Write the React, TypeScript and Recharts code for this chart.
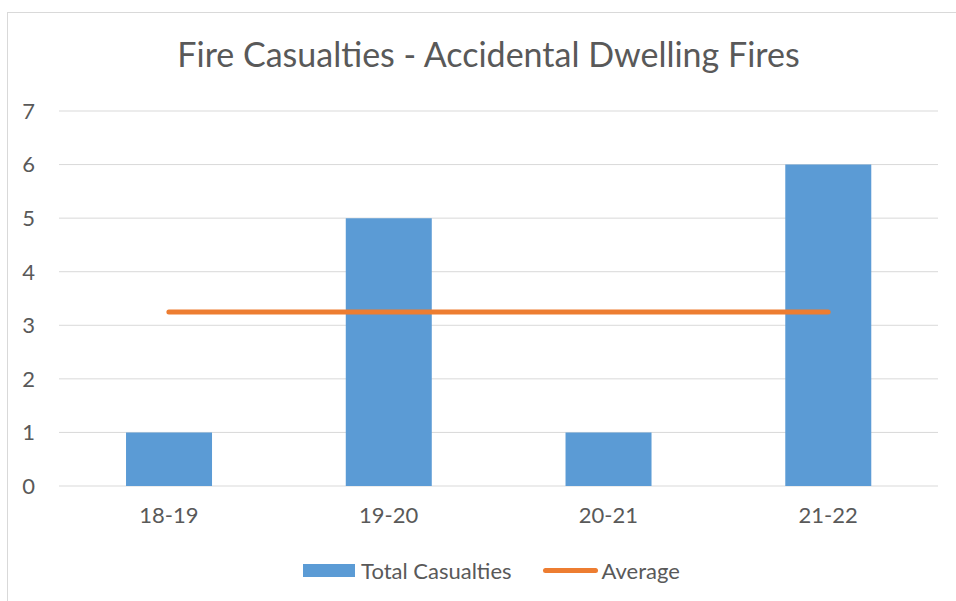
import { Bar, CartesianGrid, ComposedChart, Legend, Line, XAxis, YAxis } from "recharts";

const seasons = ["18-19", "19-20", "20-21", "21-22"];
const totalCasualties = [1, 5, 1, 6];
const averageValues = [3.25, 3.25, 3.25, 3.25];
const yTicks = [0, 1, 2, 3, 4, 5, 6, 7];

const chartData = seasons.map((season, i) => ({
  season,
  total: totalCasualties[i],
  average: averageValues[i]
}));

const FONT = "Lato, 'Open Sans', sans-serif";
const TEXT = "#595959";

function LegendBox() {
  return (
    <div
      style={{
        width: 956,
        height: 20,
        display: "flex",
        justifyContent: "center",
        alignItems: "center",
        paddingLeft: 27,
        boxSizing: "border-box",
        fontFamily: FONT,
        fontSize: 22,
        color: TEXT
      }}
    >
      <span style={{ width: 52, height: 13, background: "#5B9BD5", marginRight: 6 }} />
      <span style={{ marginRight: 31 }}>Total Casualties</span>
      <span style={{ width: 55, height: 5, borderRadius: 3, background: "#ED7D31", marginRight: 4 }} />
      <span>Average</span>
    </div>
  );
}

export default function App() {
  return (
    <div
      style={{
        position: "fixed",
        left: 0,
        top: 0,
        width: 956,
        height: 601,
        background: "#fff",
        overflow: "hidden"
      }}
    >
      <div
        style={{
          position: "absolute",
          left: 7,
          top: 12,
          width: 970,
          height: 620,
          border: "1px solid #d9d9d9",
          boxSizing: "border-box"
        }}
      />
      <div
        style={{
          position: "absolute",
          left: 0,
          top: 33,
          width: 977,
          textAlign: "center",
          fontFamily: FONT,
          fontSize: 34,
          color: TEXT
        }}
      >
        Fire Casualties - Accidental Dwelling Fires
      </div>
      <div style={{ position: "absolute", left: 0, top: 0 }}>
        <ComposedChart
          width={956}
          height={601}
          data={chartData}
          margin={{ top: 111, right: 18, left: 0, bottom: 21 }}
          barCategoryGap="30.5%"
        >
          <CartesianGrid vertical={false} stroke="#d9d9d9" strokeWidth={1} />
          <XAxis
            dataKey="season"
            axisLine={false}
            tickLine={false}
            height={74}
            tickSize={0}
            tickMargin={21}
            tick={{ fill: TEXT, fontSize: 22, fontFamily: FONT }}
          />
          <YAxis
            width={59}
            domain={[0, 7]}
            ticks={yTicks}
            axisLine={false}
            tickLine={false}
            tickSize={0}
            tickMargin={24}
            tick={{ fill: TEXT, fontSize: 22, fontFamily: FONT }}
          />
          <Legend verticalAlign="bottom" content={() => <LegendBox />} wrapperStyle={{ left: 0, width: 956 }} />
          <Bar dataKey="total" name="Total Casualties" fill="#5B9BD5" isAnimationActive={false} />
          <Line
            dataKey="average"
            name="Average"
            stroke="#ED7D31"
            strokeWidth={5}
            strokeLinecap="round"
            dot={false}
            activeDot={false}
            type="linear"
            isAnimationActive={false}
          />
        </ComposedChart>
      </div>
    </div>
  );
}
